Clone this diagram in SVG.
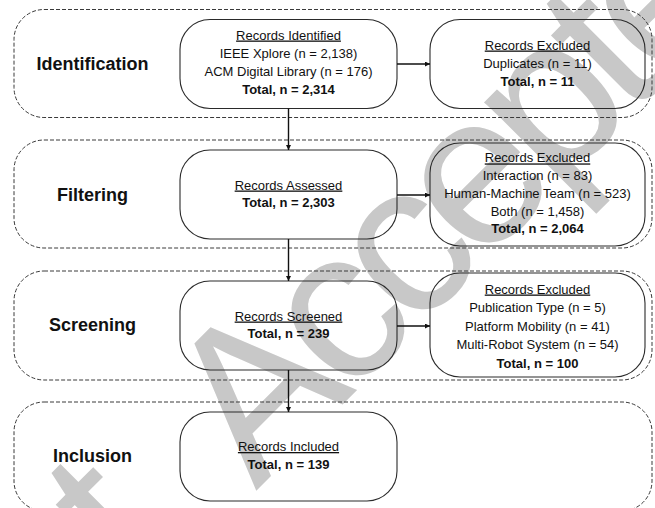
<svg xmlns="http://www.w3.org/2000/svg" width="655" height="508" viewBox="0 0 655 508">
<style>
.stage{fill:none;stroke:#3a3a3a;stroke-width:1;stroke-dasharray:4 2}
.box{fill:none;stroke:#2a2a2a;stroke-width:1.1}
.lbl{font-family:"Liberation Sans",Arial,sans-serif;font-weight:bold;font-size:18px;fill:#111;text-anchor:middle}
.t{font-family:"Liberation Sans",Arial,sans-serif;font-size:13px;fill:#111;text-anchor:middle}
.h{text-decoration:underline}
.b{font-weight:bold}
.wm{font-family:"Liberation Sans",Arial,sans-serif;font-size:215px;fill:#c8c8c8}
.edge{stroke:#111;stroke-width:1.4;fill:none}
</style>
<defs>
<marker id="ah" viewBox="0 0 8 8" refX="8" refY="4" markerWidth="5" markerHeight="5" orient="auto" markerUnits="userSpaceOnUse">
<path d="M0,0 L8,4 L0,8 z" fill="#111"/>
</marker>
</defs>
<g id="watermark">
<text class="wm" transform="translate(176,545) rotate(-45)" x="0" y="0" text-anchor="end">Just</text>
<text class="wm" transform="translate(256,491) rotate(-45)" x="0" y="0" letter-spacing="-14">Accepted</text>
</g>
<g id="stage-identification">
<rect class="stage" x="14" y="9.5" width="638" height="108" rx="30"/>
<text class="lbl" x="92.5" y="70">Identification</text>
</g>
<g id="stage-filtering">
<rect class="stage" x="14" y="140" width="638" height="108" rx="30"/>
<text class="lbl" x="92.5" y="201">Filtering</text>
</g>
<g id="stage-screening">
<rect class="stage" x="14" y="271" width="638" height="109" rx="30"/>
<text class="lbl" x="92.5" y="331">Screening</text>
</g>
<g id="stage-inclusion">
<rect class="stage" x="14" y="402" width="638" height="109" rx="30"/>
<text class="lbl" x="92.5" y="462">Inclusion</text>
</g>
<g id="records-identified">
<rect class="box" x="180" y="19.5" width="217" height="89" rx="30"/>
<text class="t h" x="288.5" y="39.5">Records Identified</text>
<text class="t" x="288.5" y="57.8">IEEE Xplore (n = 2,138)</text>
<text class="t" x="288.5" y="76.1">ACM Digital Library (n = 176)</text>
<text class="t b" x="288.5" y="94.4">Total, n = 2,314</text>
</g>
<g id="excluded-identification">
<rect class="box" x="430" y="19.5" width="215" height="89" rx="30"/>
<text class="t h" x="537.5" y="49.5">Records Excluded</text>
<text class="t" x="537.5" y="68">Duplicates (n = 11)</text>
<text class="t b" x="537.5" y="86.3">Total, n = 11</text>
</g>
<g id="records-assessed">
<rect class="box" x="180" y="150" width="217" height="89" rx="30"/>
<text class="t h" x="288.5" y="189.5">Records Assessed</text>
<text class="t b" x="288.5" y="207">Total, n = 2,303</text>
</g>
<g id="excluded-filtering">
<rect class="box" x="430" y="143" width="215" height="103" rx="30"/>
<text class="t h" x="537.5" y="162.4">Records Excluded</text>
<text class="t" x="537.5" y="180.1">Interaction (n = 83)</text>
<text class="t" x="537.5" y="197.8">Human-Machine Team (n = 523)</text>
<text class="t" x="537.5" y="215.5">Both (n = 1,458)</text>
<text class="t b" x="537.5" y="233.2">Total, n = 2,064</text>
</g>
<g id="records-screened">
<rect class="box" x="180" y="281" width="217" height="89" rx="30"/>
<text class="t h" x="288.5" y="320.5">Records Screened</text>
<text class="t b" x="288.5" y="338">Total, n = 239</text>
</g>
<g id="excluded-screening">
<rect class="box" x="430" y="273" width="215" height="104" rx="30"/>
<text class="t h" x="537.5" y="293.5">Records Excluded</text>
<text class="t" x="537.5" y="312">Publication Type (n = 5)</text>
<text class="t" x="537.5" y="330.5">Platform Mobility (n = 41)</text>
<text class="t" x="537.5" y="349">Multi-Robot System (n = 54)</text>
<text class="t b" x="537.5" y="367.5">Total, n = 100</text>
</g>
<g id="records-included">
<rect class="box" x="180" y="412" width="217" height="89" rx="30"/>
<text class="t h" x="288.5" y="451">Records Included</text>
<text class="t b" x="288.5" y="468.5">Total, n = 139</text>
</g>
<g id="connectors">
<line class="edge" x1="288.5" y1="108.5" x2="288.5" y2="150" marker-end="url(#ah)"/>
<line class="edge" x1="288.5" y1="239" x2="288.5" y2="281" marker-end="url(#ah)"/>
<line class="edge" x1="288.5" y1="370" x2="288.5" y2="412" marker-end="url(#ah)"/>
<line class="edge" x1="397" y1="64" x2="430" y2="64" marker-end="url(#ah)"/>
<line class="edge" x1="397" y1="195" x2="430" y2="195" marker-end="url(#ah)"/>
<line class="edge" x1="397" y1="326" x2="430" y2="326" marker-end="url(#ah)"/>
</g>
</svg>
